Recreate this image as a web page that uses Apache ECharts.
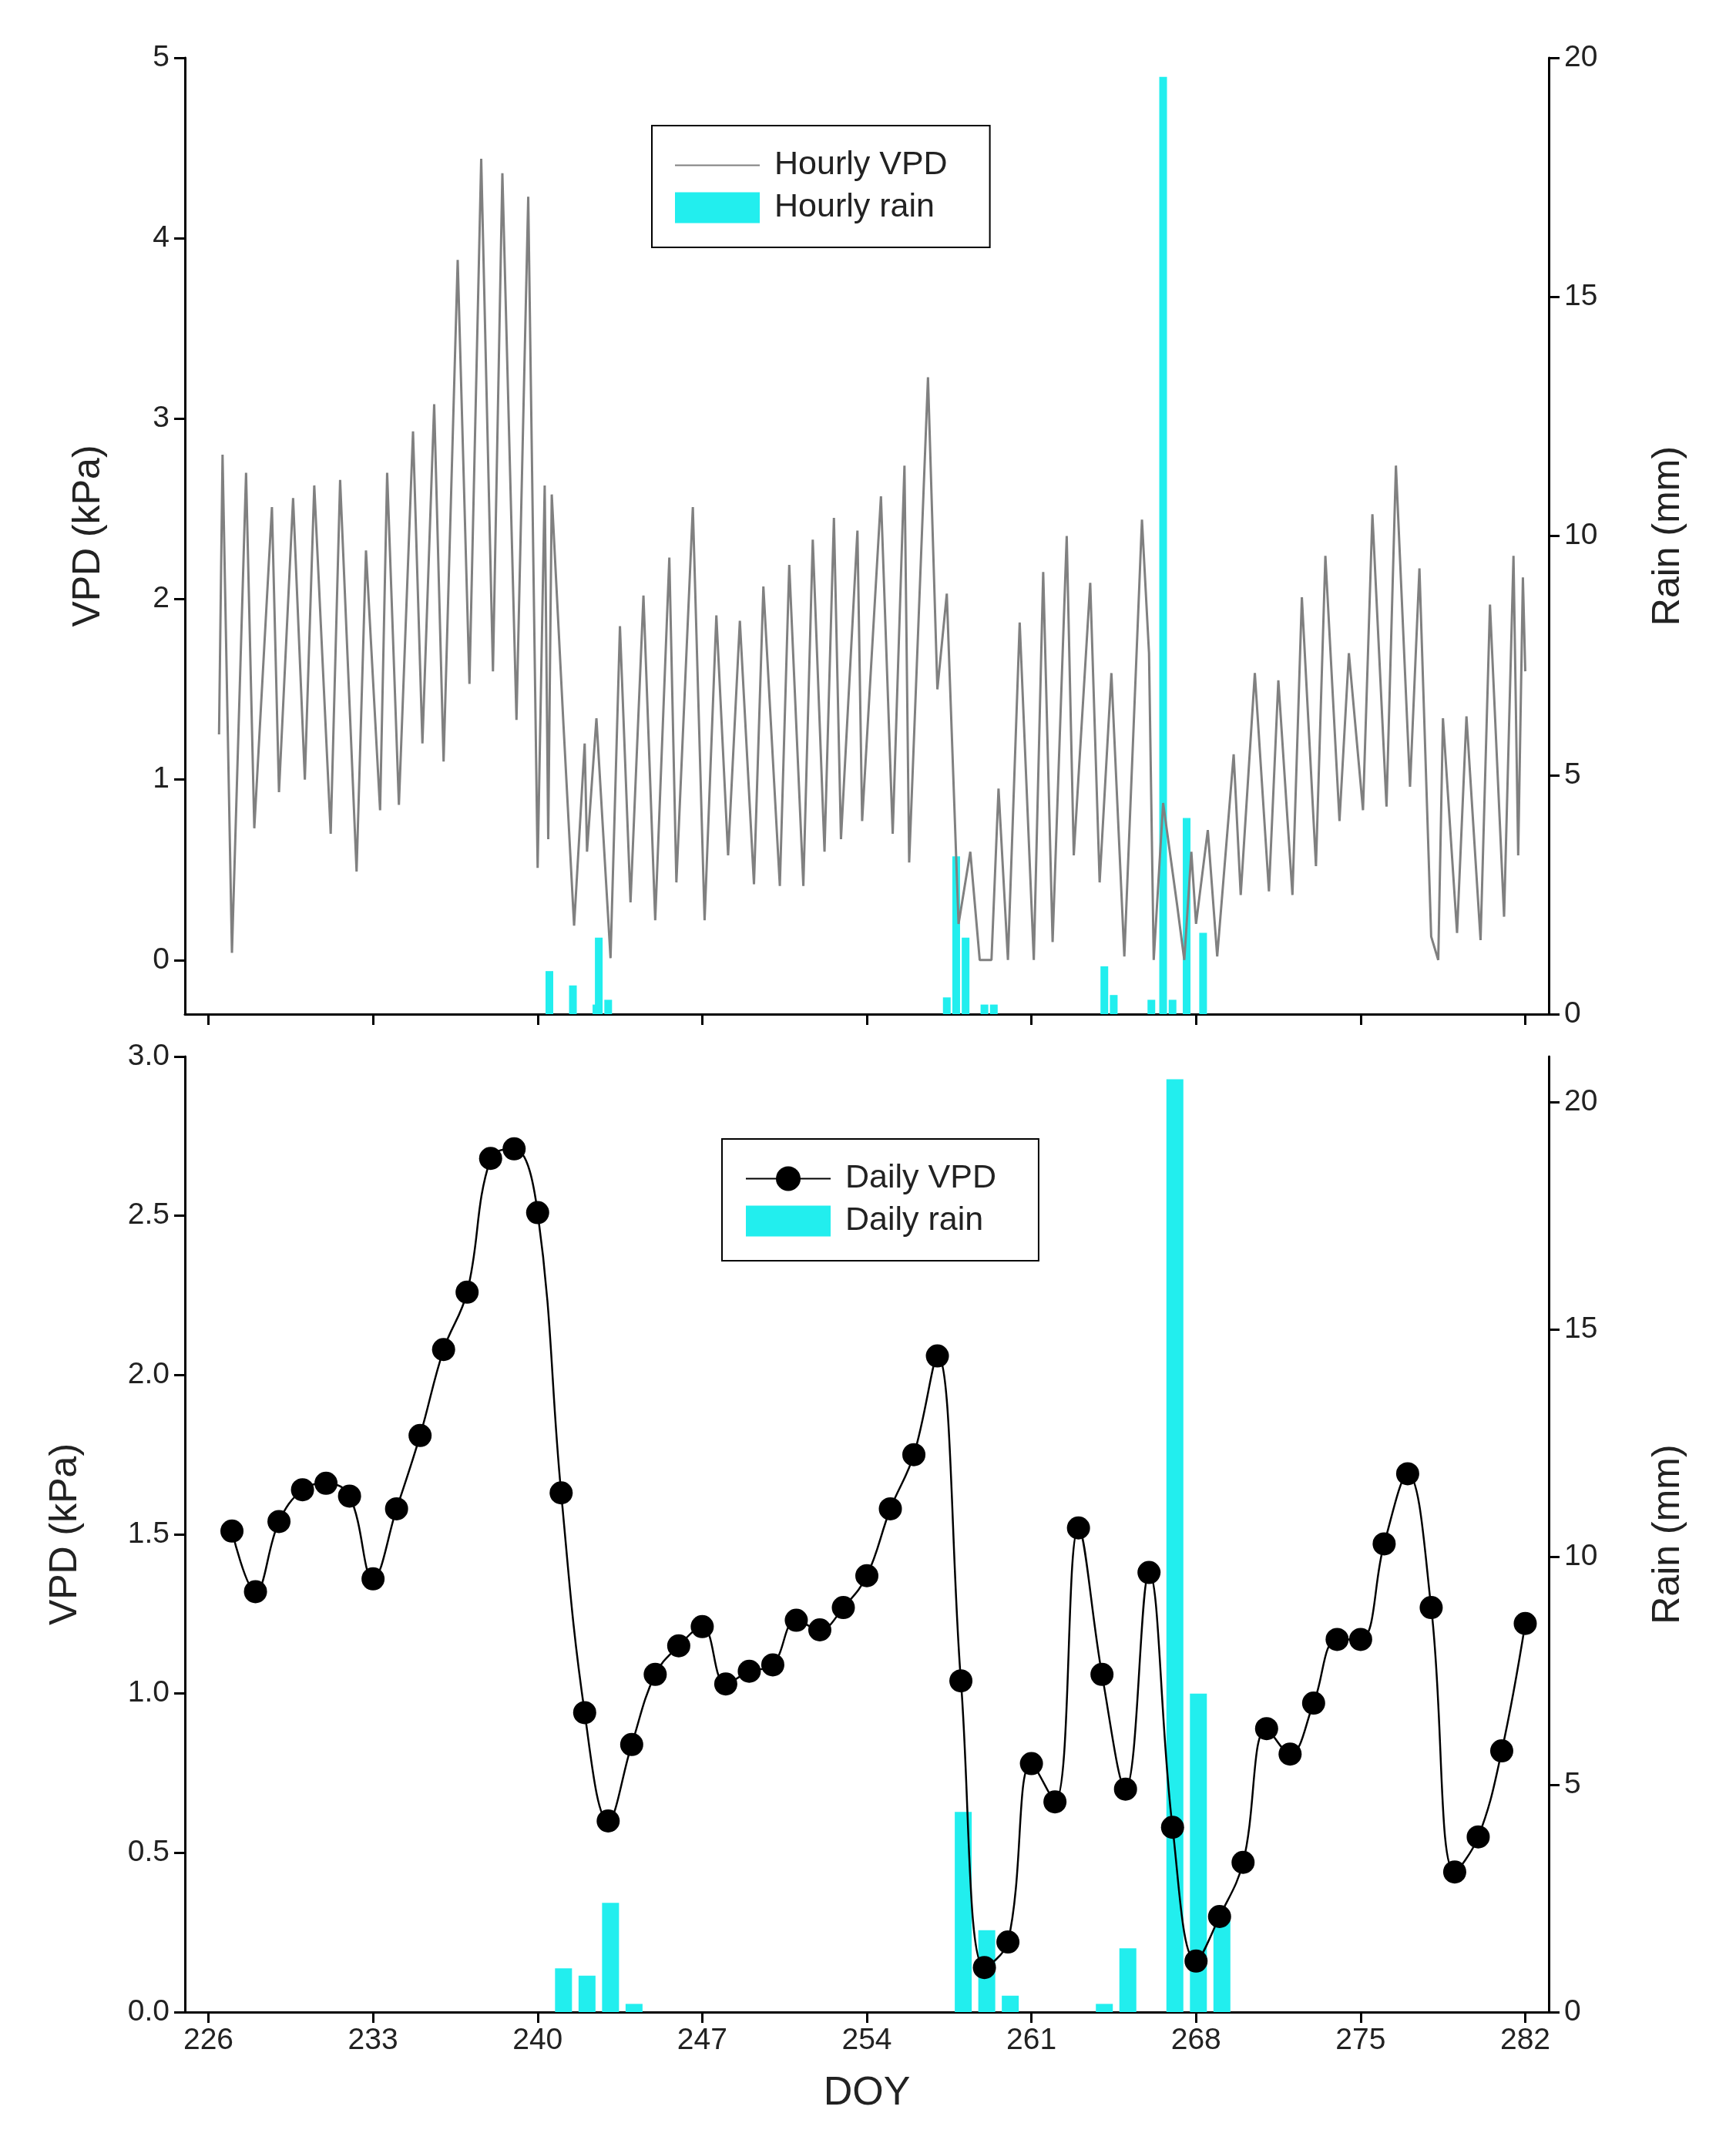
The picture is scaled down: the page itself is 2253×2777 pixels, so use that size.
<!DOCTYPE html>
<html><head><meta charset="utf-8">
<script src="https://cdn.jsdelivr.net/npm/echarts@6/dist/echarts.min.js"></script>
<style>html,body{margin:0;background:#fff}#c{width:2253px;height:2777px}</style>
</head><body><div id="c"></div>
<script>
// Hourly VPD (read at daily troughs/peaks): [DOY, kPa]
const hourlyVpd = [
[226.45,1.25],[226.6,2.80],[227.0,0.04],[227.6,2.70],[227.95,0.73],[228.7,2.51],[229.0,0.93],[229.6,2.56],
[230.1,1.00],[230.5,2.63],[231.2,0.70],[231.6,2.66],[232.3,0.49],[232.7,2.27],[233.3,0.83],[233.6,2.70],
[234.1,0.86],[234.7,2.93],[235.1,1.20],[235.6,3.08],[236.0,1.10],[236.6,3.88],[237.1,1.53],[237.6,4.44],
[238.1,1.60],[238.5,4.36],[239.1,1.33],[239.6,4.23],[240.0,0.51],[240.3,2.63],[240.45,0.67],[240.6,2.58],
[241.1,1.30],[241.55,0.19],[242.0,1.20],[242.1,0.60],[242.5,1.34],[243.1,0.01],[243.5,1.85],[243.95,0.32],
[244.5,2.02],[245.0,0.22],[245.6,2.23],[245.9,0.43],[246.6,2.51],[247.1,0.22],[247.6,1.91],[248.1,0.58],
[248.6,1.88],[249.2,0.42],[249.6,2.07],[250.3,0.41],[250.7,2.19],[251.3,0.41],[251.7,2.33],[252.2,0.60],
[252.6,2.45],[252.9,0.67],[253.6,2.38],[253.8,0.77],[254.6,2.57],[255.1,0.70],[255.6,2.74],[255.8,0.54],
[256.6,3.23],[257.0,1.50],[257.4,2.03],[257.9,0.20],[258.4,0.60],[258.8,0.0],[259.3,0.0],[259.6,0.95],
[260.0,0.0],[260.5,1.87],[261.1,0.0],[261.5,2.15],[261.9,0.10],[262.5,2.35],[262.8,0.58],[263.5,2.09],
[263.9,0.43],[264.4,1.59],[264.95,0.02],[265.7,2.44],[266.0,1.70],[266.2,0.0],[266.6,0.87],[267.2,0.30],
[267.5,0.0],[267.8,0.60],[268.0,0.20],[268.5,0.72],[268.9,0.02],[269.6,1.14],[269.9,0.36],[270.5,1.59],
[271.1,0.38],[271.5,1.55],[272.1,0.36],[272.5,2.01],[273.1,0.52],[273.5,2.24],[274.1,0.77],[274.5,1.70],
[275.1,0.83],[275.5,2.47],[276.1,0.85],[276.5,2.74],[277.1,0.96],[277.5,2.17],[278.0,0.13],[278.3,0.0],
[278.5,1.34],[279.1,0.15],[279.5,1.35],[280.1,0.11],[280.5,1.97],[281.1,0.24],[281.5,2.24],[281.7,0.58],
[281.9,2.12],[282.0,1.60]
];
// Hourly rain: [DOY, mm]
const hourlyRain = [
[240.5,0.9],[241.5,0.6],[242.5,0.2],[242.6,1.6],[243.0,0.3],[257.4,0.35],[257.8,3.3],[258.2,1.6],
[259.0,0.2],[259.4,0.2],[264.1,1.0],[264.5,0.4],[266.1,0.3],[266.6,19.6],[267.0,0.3],[267.6,4.1],[268.3,1.7]
];
const dailyDays = [];
for (let d = 227; d <= 282; d++) dailyDays.push(d);
const dailyVpd = [1.51,1.32,1.54,1.64,1.66,1.62,1.36,1.58,1.81,2.08,2.26,2.68,2.71,2.51,1.63,0.94,0.60,0.84,
1.06,1.15,1.21,1.03,1.07,1.09,1.23,1.20,1.27,1.37,1.58,1.75,2.06,1.04,0.14,0.22,0.78,0.66,1.52,1.06,0.70,1.38,
0.58,0.16,0.30,0.47,0.89,0.81,0.97,1.17,1.17,1.47,1.69,1.27,0.44,0.55,0.82,1.22];
const dailyRainDays = [241,242,243,244,258,259,260,264,265,267,268,269];
const dailyRain = [0.96,0.8,2.4,0.18,4.4,1.8,0.36,0.18,1.4,20.5,7.0,2.0];
const doyTicks = [226,233,240,247,254,261,268,275,282];

const FONT = 'Liberation Sans';
const lab = {fontFamily: FONT, fontSize: 39, color: '#222'};
const axLine = {show: true, onZero: false, lineStyle: {color: '#000', width: 3}};
const tick = {show: true, inside: false, length: 14, lineStyle: {color: '#000', width: 3}};
function xAxis(gi, showLabels) {
  return {type: 'value', gridIndex: gi, min: 225, max: 283, axisLine: axLine,
    axisTick: Object.assign({}, tick, {customValues: doyTicks}),
    axisLabel: Object.assign({}, lab, {show: showLabels, customValues: doyTicks, margin: 18}),
    splitLine: {show: false},
    name: showLabels ? 'DOY' : '', nameLocation: 'middle', nameGap: 80,
    nameTextStyle: {fontFamily: FONT, fontSize: 52, color: '#222'}};
}
function yAxis(gi, pos, min, max, vals, name, fmt, gap) {
  return {type: 'value', gridIndex: gi, position: pos, min: min, max: max,
    axisLine: axLine, axisTick: Object.assign({}, tick, {customValues: vals}),
    axisLabel: Object.assign({}, lab, {customValues: vals, margin: 20, formatter: fmt}),
    splitLine: {show: false}, name: name, nameLocation: 'middle', nameGap: gap, nameRotate: 90,
    nameTextStyle: {fontFamily: FONT, fontSize: 50, color: '#222'}};
}
const chart = echarts.init(document.getElementById('c'), null, {renderer: 'canvas'});
chart.setOption({
  backgroundColor: '#fff',
  animation: false,
  grid: [
    {left: 240, right: 243, top: 75, height: 1241},
    {left: 240, right: 243, top: 1371, height: 1240}
  ],
  xAxis: [xAxis(0, false), xAxis(1, true)],
  yAxis: [
    yAxis(0, 'left', -0.3, 5, [0,1,2,3,4,5], 'VPD (kPa)', v => v, 100),
    yAxis(0, 'right', 0, 20, [0,5,10,15,20], 'Rain (mm)', v => v, 130),
    yAxis(1, 'left', 0, 3, [0,0.5,1,1.5,2,2.5,3], 'VPD (kPa)', v => v.toFixed(1), 130),
    yAxis(1, 'right', 0, 21, [0,5,10,15,20], 'Rain (mm)', v => v, 130)
  ],
  legend: [
    {left: 846, top: 163, orient: 'vertical', borderColor: '#000', borderWidth: 2,
     padding: [30, 55, 30, 30], itemGap: 12, itemWidth: 110, itemHeight: 40,
     textStyle: {fontFamily: FONT, fontSize: 43, color: '#222', padding: [0,0,0,14]},
     data: [{name: 'Hourly VPD', icon: 'path://M0,20L110,20L110,22L0,22Z'}, {name: 'Hourly rain', icon: 'rect'}]},
    {left: 937, top: 1478, orient: 'vertical', borderColor: '#000', borderWidth: 2,
     padding: [30, 55, 30, 30], itemGap: 12, itemWidth: 110, itemHeight: 40,
     textStyle: {fontFamily: FONT, fontSize: 43, color: '#222', padding: [0,0,0,14]},
     data: ['Daily VPD', {name: 'Daily rain', icon: 'rect'}]}
  ],
  series: [
    {name: 'Hourly rain', type: 'bar', xAxisIndex: 0, yAxisIndex: 1, barWidth: 10,
     itemStyle: {color: '#22eeee'}, data: hourlyRain, z: 1},
    {name: 'Hourly VPD', type: 'line', xAxisIndex: 0, yAxisIndex: 0, showSymbol: false,
     lineStyle: {color: '#808080', width: 3}, itemStyle: {color: '#808080'}, data: hourlyVpd, z: 2},
    {name: 'Daily rain', type: 'bar', xAxisIndex: 1, yAxisIndex: 3, barWidth: 22,
     itemStyle: {color: '#22eeee'}, data: dailyRainDays.map((d, i) => [d + 0.1, dailyRain[i]]), z: 1},
    {name: 'Daily VPD', type: 'line', xAxisIndex: 1, yAxisIndex: 2, smooth: 0.4, symbol: 'circle', symbolSize: 30,
     lineStyle: {color: '#000', width: 2.5}, itemStyle: {color: '#000'},
     data: dailyDays.map((d, i) => [d, dailyVpd[i]]), z: 3}
  ]
});
</script></body></html>
